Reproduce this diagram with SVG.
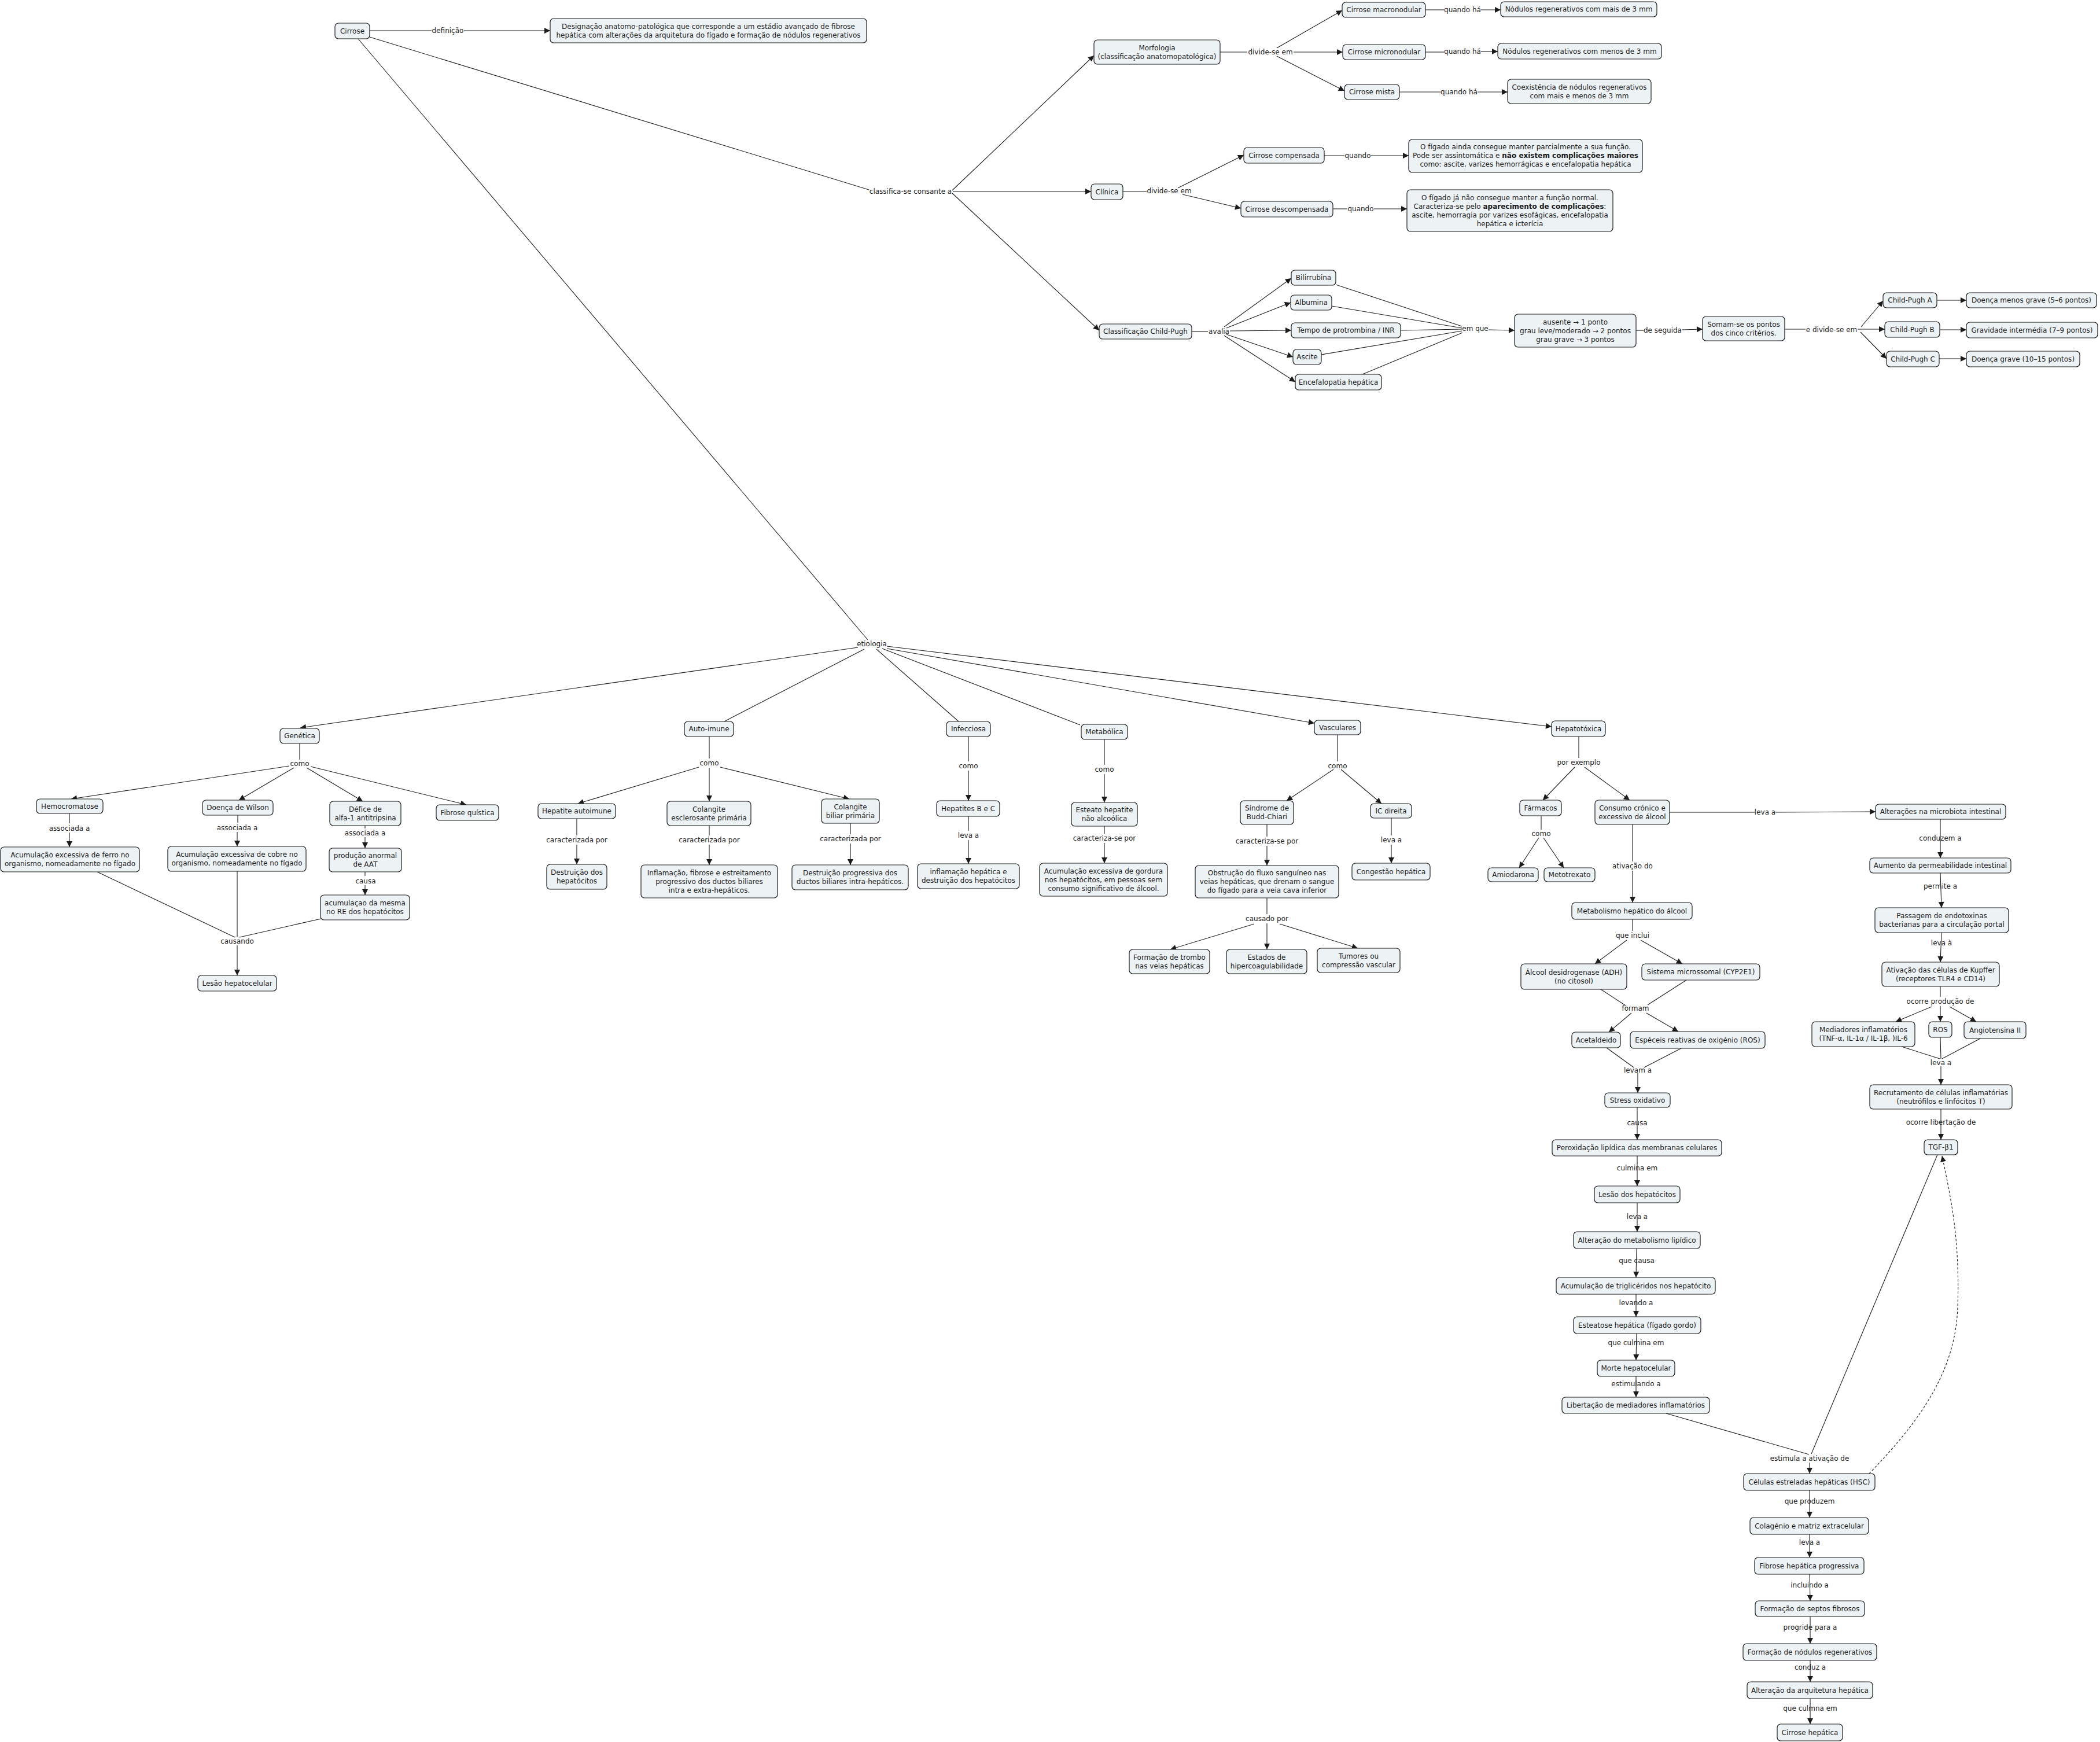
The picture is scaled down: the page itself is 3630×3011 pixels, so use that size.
<svg xmlns="http://www.w3.org/2000/svg" width="3630" height="3011" viewBox="0 0 3630 3011">
<defs>
<style>
.n rect{fill:#edf2f5;stroke:#1b1b1b;stroke-width:1.2}
text{font-family:"DejaVu Sans",Verdana,sans-serif;font-size:12px;fill:#1b1b1b;text-anchor:middle}
.c line,.c path{stroke:#1b1b1b;stroke-width:1.1;fill:none}
.c .a{marker-end:url(#ar)}
.c .d{stroke-dasharray:4 3}
</style>
<marker id="ar" viewBox="0 0 10 10" refX="10" refY="5" markerWidth="11" markerHeight="10" markerUnits="userSpaceOnUse" orient="auto"><path d="M0,0 L10,5 L0,10 z" fill="#1b1b1b"/></marker>
</defs>
<rect width="3630" height="3011" fill="#fff"/>

<g id="connectors" class="c">
<line x1="639" y1="53" x2="746" y2="53"/><line class="a" x1="802" y1="53" x2="951" y2="53"/>
<line x1="639" y1="64" x2="1502" y2="328"/>
<line class="a" x1="1646" y1="329" x2="1891" y2="96"/>
<line class="a" x1="1647" y1="331" x2="1886" y2="331"/>
<line class="a" x1="1646" y1="334" x2="1900" y2="571"/>
<line x1="2109" y1="90" x2="2156" y2="90"/>
<line class="a" x1="2207" y1="83" x2="2320" y2="18"/>
<line class="a" x1="2236" y1="90" x2="2321" y2="90"/>
<line class="a" x1="2207" y1="97" x2="2324" y2="157"/>
<line x1="2464" y1="17" x2="2496" y2="17"/><line class="a" x1="2560" y1="17" x2="2594" y2="17"/>
<line x1="2464" y1="90" x2="2496" y2="90"/><line class="a" x1="2560" y1="89" x2="2589" y2="89"/>
<line x1="2419" y1="159" x2="2490" y2="159"/><line class="a" x1="2554" y1="159" x2="2606" y2="159"/>
<line x1="1941" y1="331" x2="1982" y2="331"/>
<line class="a" x1="2036" y1="325" x2="2150" y2="268"/>
<line class="a" x1="2044" y1="336" x2="2145" y2="360"/>
<line x1="2289" y1="269" x2="2324" y2="269"/><line class="a" x1="2370" y1="269" x2="2435" y2="269"/>
<line x1="2304" y1="361" x2="2329" y2="361"/><line class="a" x1="2375" y1="361" x2="2432" y2="361"/>
<line x1="2060" y1="573" x2="2088" y2="573"/>
<line class="a" x1="2116" y1="565" x2="2232" y2="481"/>
<line class="a" x1="2120" y1="567" x2="2231" y2="523"/>
<line class="a" x1="2126" y1="572" x2="2232" y2="571"/>
<line class="a" x1="2120" y1="578" x2="2235" y2="617"/>
<line class="a" x1="2116" y1="580" x2="2239" y2="660"/>
<line x1="2309" y1="492" x2="2527" y2="564"/>
<line x1="2302" y1="529" x2="2527" y2="567"/>
<line x1="2421" y1="571" x2="2527" y2="569"/>
<line x1="2284" y1="613" x2="2527" y2="572"/>
<line x1="2355" y1="647" x2="2528" y2="575"/>
<line class="a" x1="2573" y1="570" x2="2618" y2="571"/>
<line x1="2828" y1="571" x2="2841" y2="571"/><line class="a" x1="2907" y1="570" x2="2943" y2="569"/>
<line x1="3085" y1="569" x2="3121" y2="569"/>
<line class="a" x1="3217" y1="565" x2="3255" y2="520"/>
<line class="a" x1="3211" y1="569" x2="3258" y2="569"/>
<line class="a" x1="3216" y1="574" x2="3261" y2="620"/>
<line class="a" x1="3348" y1="519" x2="3399" y2="519"/>
<line class="a" x1="3353" y1="570" x2="3399" y2="570"/>
<line class="a" x1="3352" y1="620" x2="3399" y2="620"/>
<line x1="619" y1="67" x2="1500" y2="1106"/>
<line class="a" x1="1483" y1="1119" x2="519" y2="1258"/>
<line x1="1494" y1="1122" x2="1252" y2="1247"/>
<line x1="1515" y1="1122" x2="1657" y2="1247"/>
<line x1="1525" y1="1121" x2="1867" y2="1253"/>
<line class="a" x1="1533" y1="1121" x2="2272" y2="1250"/>
<line class="a" x1="1533" y1="1117" x2="2682" y2="1256"/>
<line x1="518" y1="1285" x2="518" y2="1313"/>
<line class="a" x1="500" y1="1324" x2="123" y2="1381"/>
<line class="a" x1="508" y1="1327" x2="413" y2="1383"/>
<line class="a" x1="530" y1="1327" x2="627" y2="1385"/>
<line class="a" x1="537" y1="1325" x2="806" y2="1391"/>
<line x1="120" y1="1406" x2="120" y2="1423"/><line class="a" x1="120" y1="1439" x2="120" y2="1464"/>
<line x1="411" y1="1409" x2="411" y2="1422"/><line class="a" x1="410" y1="1438" x2="410" y2="1463"/>
<line x1="631" y1="1427" x2="631" y2="1432"/><line class="a" x1="631" y1="1447" x2="631" y2="1466"/>
<line x1="631" y1="1507" x2="631" y2="1514"/><line class="a" x1="631" y1="1530" x2="631" y2="1547"/>
<line x1="168" y1="1507" x2="406" y2="1620"/>
<line x1="410" y1="1506" x2="410" y2="1620"/>
<line x1="555" y1="1588" x2="414" y2="1620"/>
<line class="a" x1="410" y1="1634" x2="410" y2="1686"/>
<line x1="1226" y1="1273" x2="1226" y2="1311"/>
<line class="a" x1="1208" y1="1326" x2="999" y2="1389"/>
<line class="a" x1="1226" y1="1327" x2="1226" y2="1385"/>
<line class="a" x1="1245" y1="1326" x2="1468" y2="1381"/>
<line x1="997" y1="1415" x2="997" y2="1444"/><line class="a" x1="997" y1="1460" x2="997" y2="1494"/>
<line x1="1226" y1="1427" x2="1226" y2="1444"/><line class="a" x1="1226" y1="1460" x2="1226" y2="1495"/>
<line x1="1470" y1="1423" x2="1470" y2="1442"/><line class="a" x1="1470" y1="1458" x2="1470" y2="1495"/>
<line x1="1674" y1="1273" x2="1674" y2="1316"/><line class="a" x1="1674" y1="1332" x2="1674" y2="1384"/>
<line x1="1674" y1="1411" x2="1674" y2="1436"/><line class="a" x1="1674" y1="1452" x2="1674" y2="1493"/>
<line x1="1909" y1="1278" x2="1909" y2="1322"/><line class="a" x1="1909" y1="1338" x2="1909" y2="1387"/>
<line x1="1909" y1="1428" x2="1909" y2="1441"/><line class="a" x1="1909" y1="1457" x2="1909" y2="1492"/>
<line x1="2312" y1="1270" x2="2312" y2="1316"/>
<line class="a" x1="2305" y1="1330" x2="2224" y2="1384"/>
<line class="a" x1="2318" y1="1330" x2="2388" y2="1389"/>
<line x1="2190" y1="1425" x2="2190" y2="1446"/><line class="a" x1="2190" y1="1462" x2="2190" y2="1496"/>
<line x1="2405" y1="1414" x2="2405" y2="1444"/><line class="a" x1="2405" y1="1460" x2="2405" y2="1492"/>
<line x1="2190" y1="1552" x2="2190" y2="1580"/>
<line class="a" x1="2168" y1="1597" x2="2023" y2="1641"/>
<line class="a" x1="2190" y1="1596" x2="2190" y2="1641"/>
<line class="a" x1="2212" y1="1597" x2="2347" y2="1639"/>
<line x1="2729" y1="1273" x2="2729" y2="1310"/>
<line class="a" x1="2722" y1="1326" x2="2667" y2="1383"/>
<line class="a" x1="2739" y1="1326" x2="2817" y2="1383"/>
<line x1="2664" y1="1410" x2="2664" y2="1434"/>
<line class="a" x1="2660" y1="1448" x2="2626" y2="1500"/>
<line class="a" x1="2668" y1="1448" x2="2703" y2="1500"/>
<line x1="2886" y1="1404" x2="3033" y2="1404"/><line class="a" x1="3069" y1="1404" x2="3242" y2="1403"/>
<line x1="2822" y1="1425" x2="2822" y2="1489"/><line class="a" x1="2822" y1="1505" x2="2822" y2="1560"/>
<line x1="2822" y1="1589" x2="2822" y2="1609"/>
<line class="a" x1="2812" y1="1625" x2="2757" y2="1666"/>
<line class="a" x1="2836" y1="1625" x2="2908" y2="1666"/>
<line x1="2767" y1="1710" x2="2810" y2="1738"/>
<line x1="2915" y1="1694" x2="2848" y2="1737"/>
<line class="a" x1="2820" y1="1751" x2="2781" y2="1784"/>
<line class="a" x1="2846" y1="1751" x2="2901" y2="1783"/>
<line x1="2777" y1="1811" x2="2824" y2="1845"/>
<line x1="2906" y1="1812" x2="2842" y2="1845"/>
<line class="a" x1="2831" y1="1855" x2="2831" y2="1889"/>
<line class="a" x1="2830" y1="1914" x2="2830" y2="1970"/>
<line class="a" x1="2830" y1="1998" x2="2830" y2="2050"/>
<line class="a" x1="2830" y1="2079" x2="2830" y2="2129"/>
<line class="a" x1="2829" y1="2158" x2="2828" y2="2208"/>
<line class="a" x1="2828" y1="2237" x2="2828" y2="2276"/>
<line class="a" x1="2829" y1="2305" x2="2828" y2="2351"/>
<line class="a" x1="2828" y1="2379" x2="2828" y2="2415"/>
<line class="a" x1="3354" y1="1416" x2="3354" y2="1483"/>
<line class="a" x1="3354" y1="1509" x2="3356" y2="1569"/>
<line class="a" x1="3356" y1="1612" x2="3354" y2="1663"/>
<line x1="3354" y1="1705" x2="3354" y2="1723"/>
<line class="a" x1="3339" y1="1740" x2="3277" y2="1766"/>
<line class="a" x1="3354" y1="1739" x2="3354" y2="1766"/>
<line class="a" x1="3370" y1="1740" x2="3416" y2="1766"/>
<line x1="3287" y1="1809" x2="3353" y2="1830"/>
<line x1="3354" y1="1793" x2="3355" y2="1830"/>
<line x1="3423" y1="1795" x2="3357" y2="1830"/>
<line class="a" x1="3355" y1="1843" x2="3355" y2="1875"/>
<line class="a" x1="3355" y1="1917" x2="3355" y2="1970"/>
<line x1="2880" y1="2443" x2="3127" y2="2514"/>
<line x1="3349" y1="1996" x2="3131" y2="2513"/>
<line class="a" x1="3128" y1="2528" x2="3128" y2="2547"/>
<path class="a d" d="M3231,2547 C3320,2455 3380,2370 3384,2260 C3388,2140 3372,2070 3357,1998"/>
<line class="a" x1="3128" y1="2576" x2="3128" y2="2623"/>
<line class="a" x1="3128" y1="2652" x2="3128" y2="2692"/>
<line class="a" x1="3128" y1="2721" x2="3129" y2="2767"/>
<line class="a" x1="3129" y1="2794" x2="3129" y2="2841"/>
<line class="a" x1="3129" y1="2870" x2="3129" y2="2907"/>
<line class="a" x1="3129" y1="2936" x2="3129" y2="2980"/>

<text x="774" y="57">definição</text>
<text x="1574" y="335">classifica-se consante a</text>
<text x="2196" y="94">divide-se em</text>
<text x="2528" y="21">quando há</text>
<text x="2528" y="93">quando há</text>
<text x="2522" y="163">quando há</text>
<text x="2021" y="334">divide-se em</text>
<text x="2347" y="273">quando</text>
<text x="2352" y="365">quando</text>
<text x="2107" y="577">avalia</text>
<text x="2550" y="572">em que</text>
<text x="2874" y="575">de seguida</text>
<text x="3166" y="574">e divide-se em</text>
<text x="1507" y="1117">etiologia</text>
<text x="518" y="1324">como</text>
<text x="120" y="1436">associada a</text>
<text x="410" y="1435">associada a</text>
<text x="631" y="1444">associada a</text>
<text x="632" y="1527">causa</text>
<text x="410" y="1631">causando</text>
<text x="1226" y="1323">como</text>
<text x="997" y="1456">caracterizada por</text>
<text x="1226" y="1456">caracterizada por</text>
<text x="1470" y="1454">caracterizada por</text>
<text x="1674" y="1328">como</text>
<text x="1674" y="1448">leva a</text>
<text x="1909" y="1334">como</text>
<text x="1909" y="1453">caracteriza-se por</text>
<text x="2312" y="1328">como</text>
<text x="2190" y="1458">caracteriza-se por</text>
<text x="2405" y="1456">leva a</text>
<text x="2190" y="1592">causado por</text>
<text x="2729" y="1322">por exemplo</text>
<text x="2664" y="1445">como</text>
<text x="3051" y="1408">leva a</text>
<text x="2822" y="1501">ativação do</text>
<text x="2822" y="1621">que inclui</text>
<text x="2827" y="1747">formam</text>
<text x="2831" y="1854">levam a</text>
<text x="2830" y="1945">causa</text>
<text x="2830" y="2023">culmina em</text>
<text x="2830" y="2107">leva a</text>
<text x="2829" y="2183">que causa</text>
<text x="2828" y="2256">levando a</text>
<text x="2828" y="2325">que culmina em</text>
<text x="2828" y="2396">estimulando a</text>
<text x="3354" y="1453">conduzem a</text>
<text x="3354" y="1536">permite a</text>
<text x="3356" y="1634">leva à</text>
<text x="3354" y="1735">ocorre produção de</text>
<text x="3355" y="1841">leva a</text>
<text x="3355" y="1944">ocorre libertação de</text>
<text x="3128" y="2525">estimula a ativação de</text>
<text x="3128" y="2599">que produzem</text>
<text x="3128" y="2670">leva a</text>
<text x="3128" y="2744">incluindo a</text>
<text x="3129" y="2817">progride para a</text>
<text x="3129" y="2886">conduz a</text>
<text x="3129" y="2957">que culmna em</text>
</g>

<g id="n-cirrose" class="n"><rect x="579" y="40" width="60" height="27" rx="6"/><text x="609" y="57.5">Cirrose</text></g>
<g id="n-definicao" class="n"><rect x="951" y="32" width="547" height="42" rx="6"/><text x="1224.5" y="49.5"><tspan x="1224.5">Designação anatomo-patológica que corresponde a um estádio avançado de fibrose</tspan><tspan x="1224.5" dy="15">hepática com alterações da arquitetura do fígado e formação de nódulos regenerativos</tspan></text></g>
<g id="n-morfologia" class="n"><rect x="1891" y="69" width="218" height="42" rx="6"/><text x="2000" y="86.5"><tspan x="2000">Morfologia</tspan><tspan x="2000" dy="15">(classificação anatomopatológica)</tspan></text></g>
<g id="n-macro" class="n"><rect x="2320" y="4" width="144" height="26" rx="6"/><text x="2392" y="21">Cirrose macronodular</text></g>
<g id="n-macro-d" class="n"><rect x="2594" y="3" width="270" height="26" rx="6"/><text x="2729" y="20">Nódulos regenerativos com mais de 3 mm</text></g>
<g id="n-micro" class="n"><rect x="2321" y="77" width="143" height="26" rx="6"/><text x="2392.5" y="94">Cirrose micronodular</text></g>
<g id="n-micro-d" class="n"><rect x="2589" y="75" width="283" height="27" rx="6"/><text x="2730.5" y="92.5">Nódulos regenerativos com menos de 3 mm</text></g>
<g id="n-mista" class="n"><rect x="2324" y="146" width="95" height="26" rx="6"/><text x="2371.5" y="163">Cirrose mista</text></g>
<g id="n-mista-d" class="n"><rect x="2606" y="137" width="248" height="42" rx="6"/><text x="2730" y="154.5"><tspan x="2730">Coexistência de nódulos regenerativos</tspan><tspan x="2730" dy="15">com mais e menos de 3 mm</tspan></text></g>
<g id="n-clinica" class="n"><rect x="1886" y="318" width="55" height="27" rx="6"/><text x="1913.5" y="335.5">Clínica</text></g>
<g id="n-compensada" class="n"><rect x="2150" y="255" width="139" height="27" rx="6"/><text x="2219.5" y="272.5">Cirrose compensada</text></g>
<g id="n-compensada-d" class="n"><rect x="2435" y="241" width="404" height="57" rx="6"/><text x="2637" y="258"><tspan x="2637">O fígado ainda consegue manter parcialmente a sua função.</tspan><tspan x="2637" dy="15">Pode ser assintomática e <tspan font-weight="bold">não existem complicações maiores</tspan></tspan><tspan x="2637" dy="15">como: ascite, varizes hemorrágicas e encefalopatia hepática</tspan></text></g>
<g id="n-descompensada" class="n"><rect x="2145" y="348" width="159" height="27" rx="6"/><text x="2224.5" y="365.5">Cirrose descompensada</text></g>
<g id="n-descompensada-d" class="n"><rect x="2432" y="328" width="356" height="72" rx="6"/><text x="2610" y="345.5"><tspan x="2610">O fígado já não consegue manter a função normal.</tspan><tspan x="2610" dy="15">Caracteriza-se pelo <tspan font-weight="bold">aparecimento de complicações</tspan>:</tspan><tspan x="2610" dy="15">ascite, hemorragia por varizes esofágicas, encefalopatia</tspan><tspan x="2610" dy="15">hepática e icterícia</tspan></text></g>
<g id="n-childpugh" class="n"><rect x="1900" y="560" width="160" height="26" rx="6"/><text x="1980" y="577">Classificação Child-Pugh</text></g>
<g id="n-bilirrubina" class="n"><rect x="2232" y="467" width="77" height="26" rx="6"/><text x="2270.5" y="484">Bilirrubina</text></g>
<g id="n-albumina" class="n"><rect x="2231" y="510" width="71" height="26" rx="6"/><text x="2266.5" y="527">Albumina</text></g>
<g id="n-tempo" class="n"><rect x="2232" y="558" width="189" height="26" rx="6"/><text x="2326.5" y="575">Tempo de protrombina / INR</text></g>
<g id="n-ascite" class="n"><rect x="2235" y="604" width="49" height="26" rx="6"/><text x="2259.5" y="621">Ascite</text></g>
<g id="n-encefalopatia" class="n"><rect x="2239" y="647" width="149" height="27" rx="6"/><text x="2313.5" y="664.5">Encefalopatia hepática</text></g>
<g id="n-pontos" class="n"><rect x="2618" y="543" width="210" height="57" rx="6"/><text x="2723" y="560.5"><tspan x="2723">ausente → 1 ponto</tspan><tspan x="2723" dy="15">grau leve/moderado → 2 pontos</tspan><tspan x="2723" dy="15">grau grave → 3 pontos</tspan></text></g>
<g id="n-somam" class="n"><rect x="2943" y="547" width="142" height="42" rx="6"/><text x="3014" y="564.5"><tspan x="3014">Somam-se os pontos</tspan><tspan x="3014" dy="15">dos cinco critérios.</tspan></text></g>
<g id="n-cpa" class="n"><rect x="3255" y="506" width="93" height="26" rx="6"/><text x="3301.5" y="523">Child-Pugh A</text></g>
<g id="n-cpa-d" class="n"><rect x="3399" y="506" width="225" height="26" rx="6"/><text x="3511.5" y="523">Doença menos grave (5–6 pontos)</text></g>
<g id="n-cpb" class="n"><rect x="3258" y="556" width="95" height="27" rx="6"/><text x="3305.5" y="573.5">Child-Pugh B</text></g>
<g id="n-cpb-d" class="n"><rect x="3399" y="557" width="227" height="27" rx="6"/><text x="3512.5" y="574.5">Gravidade intermédia (7–9 pontos)</text></g>
<g id="n-cpc" class="n"><rect x="3261" y="607" width="91" height="27" rx="6"/><text x="3306.5" y="624.5">Child-Pugh C</text></g>
<g id="n-cpc-d" class="n"><rect x="3399" y="607" width="196" height="27" rx="6"/><text x="3497" y="624.5">Doença grave (10–15 pontos)</text></g>

<g id="n-genetica" class="n"><rect x="484" y="1259" width="68" height="26" rx="6"/><text x="518" y="1276">Genética</text></g>
<g id="n-hemocromatose" class="n"><rect x="63" y="1381" width="115" height="25" rx="6"/><text x="120.5" y="1397.5">Hemocromatose</text></g>
<g id="n-wilson" class="n"><rect x="350" y="1383" width="122" height="26" rx="6"/><text x="411" y="1400">Doença de Wilson</text></g>
<g id="n-defice" class="n"><rect x="570" y="1385" width="123" height="42" rx="6"/><text x="631.5" y="1402.5"><tspan x="631.5">Défice de</tspan><tspan x="631.5" dy="15">alfa-1 antitripsina</tspan></text></g>
<g id="n-fibrose-quistica" class="n"><rect x="754" y="1391" width="108" height="27" rx="6"/><text x="808" y="1408.5">Fibrose quística</text></g>
<g id="n-ferro" class="n"><rect x="1" y="1464" width="240" height="43" rx="6"/><text x="121" y="1482"><tspan x="121">Acumulação excessiva de ferro no</tspan><tspan x="121" dy="15">organismo, nomeadamente no fígado</tspan></text></g>
<g id="n-cobre" class="n"><rect x="290" y="1463" width="239" height="43" rx="6"/><text x="409.5" y="1481"><tspan x="409.5">Acumulação excessiva de cobre no</tspan><tspan x="409.5" dy="15">organismo, nomeadamente no fígado</tspan></text></g>
<g id="n-aat" class="n"><rect x="569" y="1466" width="125" height="41" rx="6"/><text x="631.5" y="1483"><tspan x="631.5">produção anormal</tspan><tspan x="631.5" dy="15">de AAT</tspan></text></g>
<g id="n-acum-re" class="n"><rect x="554" y="1547" width="154" height="43" rx="6"/><text x="631" y="1565"><tspan x="631">acumulaçao da mesma</tspan><tspan x="631" dy="15">no RE dos hepatócitos</tspan></text></g>
<g id="n-lesao-hc" class="n"><rect x="342" y="1686" width="136" height="27" rx="6"/><text x="410" y="1703.5">Lesão hepatocelular</text></g>

<g id="n-autoimune" class="n"><rect x="1183" y="1247" width="85" height="26" rx="6"/><text x="1225.5" y="1264">Auto-imune</text></g>
<g id="n-hai" class="n"><rect x="930" y="1389" width="134" height="26" rx="6"/><text x="997" y="1406">Hepatite autoimune</text></g>
<g id="n-cep" class="n"><rect x="1153" y="1385" width="145" height="42" rx="6"/><text x="1225.5" y="1402.5"><tspan x="1225.5">Colangite</tspan><tspan x="1225.5" dy="15">esclerosante primária</tspan></text></g>
<g id="n-cbp" class="n"><rect x="1420" y="1381" width="100" height="42" rx="6"/><text x="1470" y="1398.5"><tspan x="1470">Colangite</tspan><tspan x="1470" dy="15">biliar primária</tspan></text></g>
<g id="n-hai-d" class="n"><rect x="945" y="1494" width="104" height="43" rx="6"/><text x="997" y="1512"><tspan x="997">Destruição dos</tspan><tspan x="997" dy="15">hepatócitos</tspan></text></g>
<g id="n-cep-d" class="n"><rect x="1108" y="1495" width="236" height="57" rx="6"/><text x="1226" y="1512.5"><tspan x="1226">Inflamação, fibrose e estreitamento</tspan><tspan x="1226" dy="15">progressivo dos ductos biliares</tspan><tspan x="1226" dy="15">intra e extra-hepáticos.</tspan></text></g>
<g id="n-cbp-d" class="n"><rect x="1369" y="1495" width="201" height="43" rx="6"/><text x="1469.5" y="1513"><tspan x="1469.5">Destruição progressiva dos</tspan><tspan x="1469.5" dy="15">ductos biliares intra-hepáticos.</tspan></text></g>
<g id="n-infecciosa" class="n"><rect x="1636" y="1247" width="76" height="26" rx="6"/><text x="1674" y="1264">Infecciosa</text></g>
<g id="n-hbc" class="n"><rect x="1619" y="1384" width="109" height="27" rx="6"/><text x="1673.5" y="1401.5">Hepatites B e C</text></g>
<g id="n-hbc-d" class="n"><rect x="1586" y="1493" width="176" height="43" rx="6"/><text x="1674" y="1511"><tspan x="1674">inflamação hepática e</tspan><tspan x="1674" dy="15">destruição dos hepatócitos</tspan></text></g>
<g id="n-metabolica" class="n"><rect x="1869" y="1252" width="80" height="26" rx="6"/><text x="1909" y="1269">Metabólica</text></g>
<g id="n-nash" class="n"><rect x="1852" y="1387" width="114" height="41" rx="6"/><text x="1909" y="1404"><tspan x="1909">Esteato hepatite</tspan><tspan x="1909" dy="15">não alcoólica</tspan></text></g>
<g id="n-nash-d" class="n"><rect x="1797" y="1492" width="221" height="57" rx="6"/><text x="1907.5" y="1509.5"><tspan x="1907.5">Acumulação excessiva de gordura</tspan><tspan x="1907.5" dy="15">nos hepatócitos, em pessoas sem</tspan><tspan x="1907.5" dy="15">consumo significativo de álcool.</tspan></text></g>

<g id="n-vasculares" class="n"><rect x="2272" y="1245" width="80" height="25" rx="6"/><text x="2312" y="1261.5">Vasculares</text></g>
<g id="n-budd" class="n"><rect x="2144" y="1384" width="92" height="41" rx="6"/><text x="2190" y="1401"><tspan x="2190">Síndrome de</tspan><tspan x="2190" dy="15">Budd-Chiari</tspan></text></g>
<g id="n-ic" class="n"><rect x="2369" y="1389" width="71" height="25" rx="6"/><text x="2404.5" y="1405.5">IC direita</text></g>
<g id="n-obstrucao" class="n"><rect x="2066" y="1496" width="248" height="56" rx="6"/><text x="2190" y="1513"><tspan x="2190">Obstrução do fluxo sanguíneo nas</tspan><tspan x="2190" dy="15">veias hepáticas, que drenam o sangue</tspan><tspan x="2190" dy="15">do fígado para a veia cava inferior</tspan></text></g>
<g id="n-congestao" class="n"><rect x="2337" y="1492" width="135" height="29" rx="6"/><text x="2404.5" y="1510.5">Congestão hepática</text></g>
<g id="n-trombo" class="n"><rect x="1952" y="1641" width="139" height="42" rx="6"/><text x="2021.5" y="1658.5"><tspan x="2021.5">Formação de trombo</tspan><tspan x="2021.5" dy="15">nas veias hepáticas</tspan></text></g>
<g id="n-hiper" class="n"><rect x="2120" y="1641" width="139" height="42" rx="6"/><text x="2189.5" y="1658.5"><tspan x="2189.5">Estados de</tspan><tspan x="2189.5" dy="15">hipercoagulabilidade</tspan></text></g>
<g id="n-tumores" class="n"><rect x="2277" y="1639" width="143" height="42" rx="6"/><text x="2348.5" y="1656.5"><tspan x="2348.5">Tumores ou</tspan><tspan x="2348.5" dy="15">compressão vascular</tspan></text></g>

<g id="n-hepatotoxica" class="n"><rect x="2682" y="1246" width="93" height="27" rx="6"/><text x="2728.5" y="1263.5">Hepatotóxica</text></g>
<g id="n-farmacos" class="n"><rect x="2627" y="1383" width="72" height="27" rx="6"/><text x="2663" y="1400.5">Fármacos</text></g>
<g id="n-consumo" class="n"><rect x="2757" y="1383" width="129" height="42" rx="6"/><text x="2821.5" y="1400.5"><tspan x="2821.5">Consumo crónico e</tspan><tspan x="2821.5" dy="15">excessivo de álcool</tspan></text></g>
<g id="n-amiodarona" class="n"><rect x="2572" y="1500" width="87" height="24" rx="6"/><text x="2615.5" y="1516">Amiodarona</text></g>
<g id="n-metotrexato" class="n"><rect x="2669" y="1500" width="88" height="24" rx="6"/><text x="2713" y="1516">Metotrexato</text></g>
<g id="n-microbiota" class="n"><rect x="3242" y="1390" width="225" height="26" rx="6"/><text x="3354.5" y="1407">Alterações na microbiota intestinal</text></g>
<g id="n-metabolismo" class="n"><rect x="2717" y="1560" width="208" height="29" rx="6"/><text x="2821" y="1578.5">Metabolismo hepático do álcool</text></g>
<g id="n-permeabilidade" class="n"><rect x="3232" y="1483" width="244" height="26" rx="6"/><text x="3354" y="1500">Aumento da permeabilidade intestinal</text></g>
<g id="n-endotoxinas" class="n"><rect x="3241" y="1569" width="231" height="43" rx="6"/><text x="3356.5" y="1587"><tspan x="3356.5">Passagem de endotoxinas</tspan><tspan x="3356.5" dy="15">bacterianas para a circulação portal</tspan></text></g>
<g id="n-kupffer" class="n"><rect x="3253" y="1663" width="203" height="42" rx="6"/><text x="3354.5" y="1680.5"><tspan x="3354.5">Ativação das células de Kupffer</tspan><tspan x="3354.5" dy="15">(receptores TLR4 e CD14)</tspan></text></g>
<g id="n-adh" class="n"><rect x="2629" y="1666" width="183" height="44" rx="6"/><text x="2720.5" y="1684.5"><tspan x="2720.5">Álcool desidrogenase (ADH)</tspan><tspan x="2720.5" dy="15">(no citosol)</tspan></text></g>
<g id="n-cyp" class="n"><rect x="2838" y="1666" width="204" height="28" rx="6"/><text x="2940" y="1684">Sistema microssomal (CYP2E1)</text></g>
<g id="n-acetaldeido" class="n"><rect x="2717" y="1784" width="84" height="27" rx="6"/><text x="2759" y="1801.5">Acetaldeido</text></g>
<g id="n-especies" class="n"><rect x="2818" y="1783" width="233" height="29" rx="6"/><text x="2934.5" y="1801.5">Espéceis reativas de oxigénio (ROS)</text></g>
<g id="n-mediadores" class="n"><rect x="3132" y="1766" width="178" height="43" rx="6"/><text x="3221" y="1784"><tspan x="3221">Mediadores inflamatórios</tspan><tspan x="3221" dy="15">(TNF-α, IL-1α / IL-1β, )IL-6</tspan></text></g>
<g id="n-ros" class="n"><rect x="3334" y="1766" width="40" height="27" rx="6"/><text x="3354" y="1783.5">ROS</text></g>
<g id="n-angiotensina" class="n"><rect x="3395" y="1766" width="107" height="29" rx="6"/><text x="3448.5" y="1784.5">Angiotensina II</text></g>
<g id="n-recrutamento" class="n"><rect x="3232" y="1875" width="246" height="42" rx="6"/><text x="3355" y="1892.5"><tspan x="3355">Recrutamento de células inflamatórias</tspan><tspan x="3355" dy="15">(neutrófilos e linfócitos T)</tspan></text></g>
<g id="n-tgf" class="n"><rect x="3326" y="1970" width="58" height="26" rx="6"/><text x="3355" y="1987">TGF-β1</text></g>

<g id="n-stress" class="n"><rect x="2774" y="1889" width="113" height="25" rx="6"/><text x="2830.5" y="1905.5">Stress oxidativo</text></g>
<g id="n-peroxidacao" class="n"><rect x="2683" y="1970" width="293" height="28" rx="6"/><text x="2829.5" y="1988">Peroxidação lipídica das membranas celulares</text></g>
<g id="n-lesao-hep" class="n"><rect x="2756" y="2050" width="148" height="29" rx="6"/><text x="2830" y="2068.5">Lesão dos hepatócitos</text></g>
<g id="n-alt-metab" class="n"><rect x="2720" y="2129" width="219" height="29" rx="6"/><text x="2829.5" y="2147.5">Alteração do metabolismo lipídico</text></g>
<g id="n-trigliceridos" class="n"><rect x="2690" y="2208" width="275" height="29" rx="6"/><text x="2827.5" y="2226.5">Acumulação de triglicéridos nos hepatócito</text></g>
<g id="n-esteatose" class="n"><rect x="2720" y="2276" width="220" height="29" rx="6"/><text x="2830" y="2294.5">Esteatose hepática (fígado gordo)</text></g>
<g id="n-morte" class="n"><rect x="2761" y="2351" width="134" height="28" rx="6"/><text x="2828" y="2369">Morte hepatocelular</text></g>
<g id="n-libertacao" class="n"><rect x="2700" y="2415" width="255" height="28" rx="6"/><text x="2827.5" y="2433">Libertação de mediadores inflamatórios</text></g>
<g id="n-hsc" class="n"><rect x="3014" y="2547" width="227" height="29" rx="6"/><text x="3127.5" y="2565.5">Células estreladas hepáticas (HSC)</text></g>
<g id="n-colagenio" class="n"><rect x="3025" y="2623" width="205" height="29" rx="6"/><text x="3127.5" y="2641.5">Colagénio e matriz extracelular</text></g>
<g id="n-fibrose-prog" class="n"><rect x="3033" y="2692" width="189" height="29" rx="6"/><text x="3127.5" y="2710.5">Fibrose hepática progressiva</text></g>
<g id="n-septos" class="n"><rect x="3034" y="2767" width="189" height="27" rx="6"/><text x="3128.5" y="2784.5">Formação de septos fibrosos</text></g>
<g id="n-nodulos" class="n"><rect x="3013" y="2841" width="231" height="29" rx="6"/><text x="3128.5" y="2859.5">Formação de nódulos regenerativos</text></g>
<g id="n-arquitetura" class="n"><rect x="3020" y="2907" width="217" height="29" rx="6"/><text x="3128.5" y="2925.5">Alteração da arquitetura hepática</text></g>
<g id="n-cirrose-hep" class="n"><rect x="3072" y="2980" width="113" height="29" rx="6"/><text x="3128.5" y="2998.5">Cirrose hepática</text></g>
</svg>
